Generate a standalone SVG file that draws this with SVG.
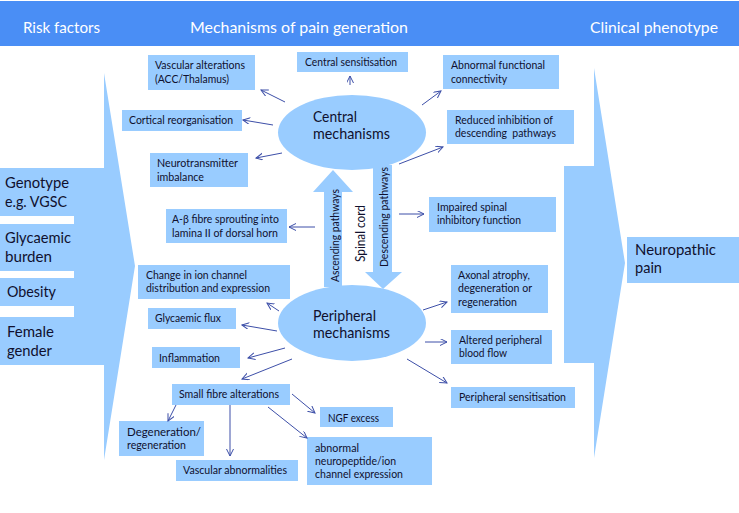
<svg xmlns="http://www.w3.org/2000/svg" width="739" height="513" viewBox="0 0 739 513">
<style>
.b{fill:#99ccff}
.t{font-family:Lato,"Liberation Sans",sans-serif;font-size:11.5px;fill:#10102e}
.L{font-family:Lato,"Liberation Sans",sans-serif;font-size:16px;fill:#10102e}
.E{font-family:Lato,"Liberation Sans",sans-serif;font-size:15px;fill:#10102e}
.H{font-family:Lato,"Liberation Sans",sans-serif;font-size:16px;fill:#ffffff}
.c{stroke:#3d4fa8;stroke-width:1;fill:none;marker-end:url(#ah)}
</style>
<defs>
<marker id="ah" markerUnits="userSpaceOnUse" markerWidth="8" markerHeight="8" refX="7" refY="3.5" orient="auto">
<path d="M0,0 L7,3.5 L0,7" fill="none" stroke="#3d4fa8" stroke-width="1"/>
</marker>
</defs>
<rect width="739" height="513" fill="#ffffff"/>
<g id="header">
<rect x="0" y="1" width="739" height="45" fill="#4a8ef5"/>
<text class="H" x="23" y="33" textLength="77" lengthAdjust="spacingAndGlyphs">Risk factors</text>
<text class="H" x="190" y="33" textLength="218" lengthAdjust="spacingAndGlyphs">Mechanisms of pain generation</text>
<text class="H" x="590" y="33" textLength="128" lengthAdjust="spacingAndGlyphs">Clinical phenotype</text>
</g>
<g id="risk-arrow">
<polygon class="b" points="74,168 104,168 104,73 135,266 104,460 104,365 74,365"/>
</g>
<g id="genotype"><rect class="b" x="0" y="168" width="104" height="48"/>
<text class="L" x="5" y="188" textLength="64" lengthAdjust="spacingAndGlyphs">Genotype</text>
<text class="L" x="5" y="207" textLength="62" lengthAdjust="spacingAndGlyphs">e.g. VGSC</text></g>
<g id="glycaemic-burden"><rect class="b" x="0" y="224" width="104" height="47"/>
<text class="L" x="5" y="243" textLength="66" lengthAdjust="spacingAndGlyphs">Glycaemic</text>
<text class="L" x="5" y="262" textLength="47" lengthAdjust="spacingAndGlyphs">burden</text></g>
<g id="obesity"><rect class="b" x="0" y="278" width="104" height="28"/>
<text class="L" x="7" y="297" textLength="49" lengthAdjust="spacingAndGlyphs">Obesity</text></g>
<g id="female-gender"><rect class="b" x="0" y="317" width="104" height="48"/>
<text class="L" x="7" y="337" textLength="47" lengthAdjust="spacingAndGlyphs">Female</text>
<text class="L" x="7" y="356" textLength="45" lengthAdjust="spacingAndGlyphs">gender</text></g>
<g id="phenotype-arrow">
<polygon class="b" points="564,166 594,166 594,68 625,263 594,458 594,363 564,363"/>
</g>
<g id="neuropathic-pain"><rect class="b" x="627" y="237" width="112" height="46"/>
<text class="L" x="635" y="255" textLength="81" lengthAdjust="spacingAndGlyphs">Neuropathic</text>
<text class="L" x="635" y="273" textLength="27" lengthAdjust="spacingAndGlyphs">pain</text></g>
<g id="ascending">
<polygon class="b" points="324,287 324,192 313,192 333,170 353,192 342,192 342,287"/>
<text class="t" transform="translate(339,282) rotate(-90)" textLength="93" lengthAdjust="spacingAndGlyphs">Ascending pathways</text>
</g>
<g id="spinal-cord">
<text class="t" style="font-size:14px" transform="translate(365,262) rotate(-90)" textLength="57" lengthAdjust="spacingAndGlyphs">Spinal cord</text>
</g>
<g id="descending">
<polygon class="b" points="373,165 373,272 365,272 383,289 402,272 392,272 392,165"/>
<text class="t" transform="translate(388,267) rotate(-90)" textLength="100" lengthAdjust="spacingAndGlyphs">Descending pathways</text>
</g>
<g id="central-mechanisms"><ellipse class="b" cx="352" cy="132.5" rx="74" ry="37.5"/>
<text class="E" x="313" y="122" textLength="44" lengthAdjust="spacingAndGlyphs">Central</text>
<text class="E" x="313" y="139" textLength="77" lengthAdjust="spacingAndGlyphs">mechanisms</text></g>
<g id="peripheral-mechanisms"><ellipse class="b" cx="352" cy="323" rx="74" ry="38"/>
<text class="E" x="313" y="321" textLength="63" lengthAdjust="spacingAndGlyphs">Peripheral</text>
<text class="E" x="313" y="338" textLength="77" lengthAdjust="spacingAndGlyphs">mechanisms</text></g>
<g id="vascular-alterations"><rect class="b" x="148" y="55" width="107" height="35"/>
<text class="t" x="155" y="69" textLength="90" lengthAdjust="spacingAndGlyphs">Vascular alterations</text>
<text class="t" x="155" y="83" textLength="74" lengthAdjust="spacingAndGlyphs">(ACC/Thalamus)</text></g>
<g id="cortical-reorganisation"><rect class="b" x="122" y="110" width="120" height="21"/>
<text class="t" x="129" y="124" textLength="104" lengthAdjust="spacingAndGlyphs">Cortical reorganisation</text></g>
<g id="neurotransmitter-imbalance"><rect class="b" x="150" y="153" width="98" height="34"/>
<text class="t" x="157" y="167" textLength="81" lengthAdjust="spacingAndGlyphs">Neurotransmitter</text>
<text class="t" x="157" y="181" textLength="47" lengthAdjust="spacingAndGlyphs">imbalance</text></g>
<g id="a-beta-sprouting"><rect class="b" x="166" y="209" width="121" height="34"/>
<text class="t" x="172" y="223" textLength="107" lengthAdjust="spacingAndGlyphs">A-β fibre sprouting into</text>
<text class="t" x="172" y="237" textLength="106" lengthAdjust="spacingAndGlyphs">lamina II of dorsal horn</text></g>
<g id="ion-channel"><rect class="b" x="138" y="265" width="152" height="34"/>
<text class="t" x="146" y="279" textLength="101" lengthAdjust="spacingAndGlyphs">Change in ion channel</text>
<text class="t" x="146" y="292" textLength="124" lengthAdjust="spacingAndGlyphs">distribution and expression</text></g>
<g id="glycaemic-flux"><rect class="b" x="148" y="308" width="88" height="21"/>
<text class="t" x="155" y="322" textLength="66" lengthAdjust="spacingAndGlyphs">Glycaemic flux</text></g>
<g id="inflammation"><rect class="b" x="152" y="347" width="88" height="21"/>
<text class="t" x="159" y="362" textLength="61" lengthAdjust="spacingAndGlyphs">Inflammation</text></g>
<g id="small-fibre"><rect class="b" x="172" y="384" width="118" height="21"/>
<text class="t" x="179" y="398" textLength="100" lengthAdjust="spacingAndGlyphs">Small fibre alterations</text></g>
<g id="degeneration"><rect class="b" x="119" y="421" width="85" height="35"/>
<text class="t" x="127" y="436" textLength="74" lengthAdjust="spacingAndGlyphs">Degeneration/</text>
<text class="t" x="127" y="449" textLength="59" lengthAdjust="spacingAndGlyphs">regeneration</text></g>
<g id="vascular-abnormalities"><rect class="b" x="176" y="460" width="122" height="21"/>
<text class="t" x="183" y="474" textLength="104" lengthAdjust="spacingAndGlyphs">Vascular abnormalities</text></g>
<g id="ngf-excess"><rect class="b" x="320" y="407" width="73" height="20"/>
<text class="t" x="328" y="422" textLength="51" lengthAdjust="spacingAndGlyphs">NGF excess</text></g>
<g id="abnormal-neuropeptide"><rect class="b" x="307" y="437" width="125" height="48"/>
<text class="t" x="315" y="452" textLength="44" lengthAdjust="spacingAndGlyphs">abnormal</text>
<text class="t" x="315" y="465" textLength="81" lengthAdjust="spacingAndGlyphs">neuropeptide/ion</text>
<text class="t" x="315" y="478" textLength="88" lengthAdjust="spacingAndGlyphs">channel expression</text></g>
<g id="central-sensitisation"><rect class="b" x="297" y="52" width="111" height="20"/>
<text class="t" x="305" y="66" textLength="92" lengthAdjust="spacingAndGlyphs">Central sensitisation</text></g>
<g id="abnormal-connectivity"><rect class="b" x="443" y="55" width="116" height="34"/>
<text class="t" x="451" y="69" textLength="94" lengthAdjust="spacingAndGlyphs">Abnormal functional</text>
<text class="t" x="451" y="83" textLength="56" lengthAdjust="spacingAndGlyphs">connectivity</text></g>
<g id="reduced-inhibition"><rect class="b" x="447" y="110" width="127" height="34"/>
<text class="t" x="455" y="124" textLength="98" lengthAdjust="spacingAndGlyphs">Reduced inhibition of</text>
<text class="t" x="455" y="137" textLength="101" lengthAdjust="spacingAndGlyphs" xml:space="preserve">descending  pathways</text></g>
<g id="impaired-spinal"><rect class="b" x="429" y="197" width="127" height="35"/>
<text class="t" x="437" y="211" textLength="70" lengthAdjust="spacingAndGlyphs">Impaired spinal</text>
<text class="t" x="437" y="224" textLength="84" lengthAdjust="spacingAndGlyphs">inhibitory function</text></g>
<g id="axonal-atrophy"><rect class="b" x="451" y="265" width="97" height="48"/>
<text class="t" x="458" y="279" textLength="72" lengthAdjust="spacingAndGlyphs">Axonal atrophy,</text>
<text class="t" x="458" y="292" textLength="74" lengthAdjust="spacingAndGlyphs">degeneration or</text>
<text class="t" x="458" y="306" textLength="59" lengthAdjust="spacingAndGlyphs">regeneration</text></g>
<g id="altered-blood-flow"><rect class="b" x="451" y="330" width="101" height="34"/>
<text class="t" x="459" y="344" textLength="83" lengthAdjust="spacingAndGlyphs">Altered peripheral</text>
<text class="t" x="459" y="357" textLength="48" lengthAdjust="spacingAndGlyphs">blood flow</text></g>
<g id="peripheral-sensitisation"><rect class="b" x="451" y="387" width="124" height="21"/>
<text class="t" x="459" y="401" textLength="107" lengthAdjust="spacingAndGlyphs">Peripheral sensitisation</text></g>
<g id="connectors">
<line class="c" x1="285" y1="102" x2="261" y2="90"/>
<line class="c" x1="273" y1="125" x2="243" y2="120"/>
<line class="c" x1="282" y1="153" x2="256" y2="158"/>
<line class="c" x1="350" y1="85" x2="350" y2="76"/>
<line class="c" x1="422" y1="105" x2="441" y2="91"/>
<line class="c" x1="399" y1="164" x2="443" y2="147"/>
<line class="c" x1="315" y1="227" x2="289" y2="227"/>
<line class="c" x1="399" y1="214" x2="424" y2="214"/>
<line class="c" x1="423" y1="310" x2="447" y2="302"/>
<line class="c" x1="425" y1="342" x2="447" y2="342"/>
<line class="c" x1="407" y1="359" x2="447" y2="383"/>
<line class="c" x1="279" y1="311" x2="267" y2="303"/>
<line class="c" x1="277" y1="331" x2="242" y2="325"/>
<line class="c" x1="285" y1="348" x2="248" y2="358"/>
<line class="c" x1="292" y1="359" x2="242" y2="379"/>
<line class="c" x1="292" y1="394" x2="315" y2="413"/>
<line class="c" x1="268" y1="407" x2="307" y2="438"/>
<line class="c" x1="230" y1="405" x2="230" y2="456"/>
<line class="c" x1="176" y1="405" x2="168" y2="421"/>
</g>
</svg>
